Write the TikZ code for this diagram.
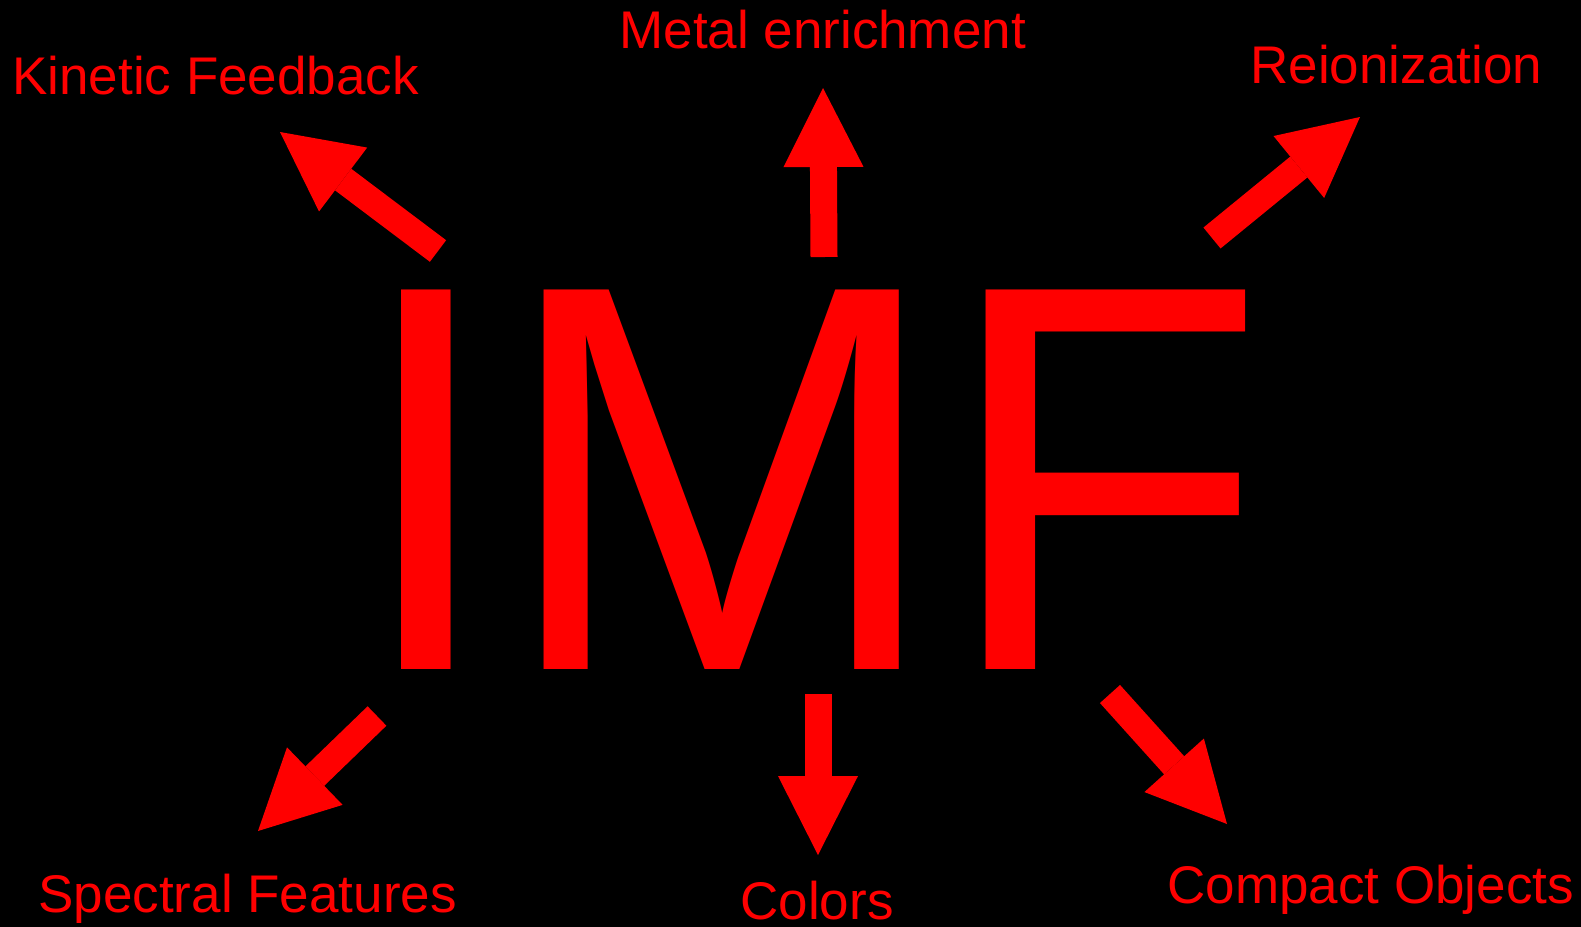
\documentclass[tikz,border=0pt]{standalone}
\usepackage{fontspec}
\setmainfont{Liberation Sans}
\usetikzlibrary{arrows.meta}
\definecolor{imfred}{RGB}{255, 0, 0}

\begin{document}
\begin{tikzpicture}[
  x=0.5pt, y=-0.5pt,
  topic/.style={text=imfred, inner sep=0pt, anchor=base west, font=\fontsize{26.5}{30}\selectfont},
  bigarrow/.style={draw=imfred, line width=13.5pt, -{Triangle[width=40pt, length=39.5pt, line width=0pt]}}
]
% Background
\fill[black] (0,0) rectangle (1581,927);
\useasboundingbox (0,0) rectangle (1581,927);

% Centre word
\node[text=imfred, inner sep=0pt, anchor=base west, font=\fontsize{265.5}{300}\selectfont] (imf) at (352,669) {\scalebox{1}[1.039]{IMF}};

% Topics
\node[topic] (kinetic) at (12,94) {Kinetic Feedback};
\node[topic] (metal) at (619,48) {Metal enrichment};
\node[topic] (reion) at (1250,83) {Reionization};
\node[topic] (spectral) at (38,912) {Spectral Features};
\node[topic] (colors) at (740,919) {Colors};
\node[topic] (compact) at (1167,903) {Compact Objects};

% Arrow ends
\coordinate (kinetic-s) at (438,251);  \coordinate (kinetic-e) at (280,132);
\coordinate (metal-s) at (824,257);    \coordinate (metal-e) at (823,88);
\coordinate (reion-s) at (1212,238);   \coordinate (reion-e) at (1360,117);
\coordinate (spectral-s) at (377,716); \coordinate (spectral-e) at (258,831);
\coordinate (colors-s) at (818,694);   \coordinate (colors-e) at (818,855);
\coordinate (compact-s) at (1110,694); \coordinate (compact-e) at (1227,824);

% Arrows
\draw[bigarrow] (kinetic-s) -- (kinetic-e);
\draw[bigarrow] (metal-s) -- (metal-e);
\draw[bigarrow] (reion-s) -- (reion-e);
\draw[bigarrow] (spectral-s) -- (spectral-e);
\draw[bigarrow] (colors-s) -- (colors-e);
\draw[bigarrow] (compact-s) -- (compact-e);

\end{tikzpicture}
\end{document}
